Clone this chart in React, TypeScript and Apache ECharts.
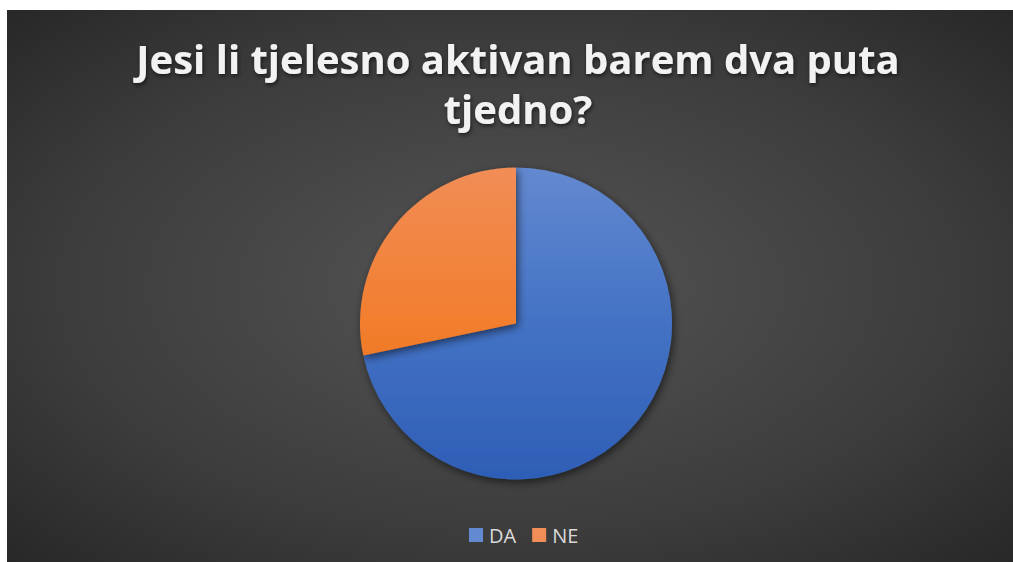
import React, { useEffect, useRef } from "react";
import * as echarts from "echarts";

const titleText = "Jesi li tjelesno aktivan barem dva puta\ntjedno?";
const categories = ["DA", "NE"];
const values = [71.7, 28.3];

const blueStops = ["#6389D0", "#4472C4", "#2E5EB6"];
const orangeStops = ["#F18D57", "#F27E2E", "#E56B18"];

export default function App() {
  const ref = useRef<HTMLDivElement>(null);
  useEffect(() => {
    if (!ref.current) return;
    const chart = echarts.init(ref.current, undefined, { renderer: "svg" });
    const grad = (stops: string[]) => ({
      type: "linear",
      x: 0,
      y: 157,
      x2: 0,
      y2: 470,
      global: true,
      colorStops: [
        { offset: 0, color: stops[0] },
        { offset: 0.5, color: stops[1] },
        { offset: 1, color: stops[2] },
      ],
    });
    const colors = [grad(blueStops), grad(orangeStops)];
    chart.setOption({
      animation: false,
      backgroundColor: {
        type: "radial",
        x: 0.5,
        y: 0.5,
        r: 0.75,
        colorStops: [
          { offset: 0, color: "#555555" },
          { offset: 0.6, color: "#3c3c3c" },
          { offset: 1, color: "#242424" },
        ],
      },
      title: {
        text: titleText,
        left: 506,
        top: 18,
        textAlign: "center",
        textStyle: {
          color: "#F2F2F2",
          fontFamily: "Open Sans",
          fontWeight: "bold",
          fontSize: 40,
          lineHeight: 50,
          textShadowColor: "rgba(0,0,0,0.6)",
          textShadowBlur: 4,
          textShadowOffsetX: 1,
          textShadowOffsetY: 2,
        },
      },
      legend: {
        data: categories,
        bottom: 12,
        left: 457,
        itemWidth: 14,
        itemHeight: 14,
        itemGap: 16,
        icon: "rect",
        textStyle: { color: "#D9D9D9", fontSize: 20, fontFamily: "Open Sans", padding: [0, 0, 0, 1] },
      },
      series: [
        {
          type: "pie",
          center: [509, 313.5],
          radius: 156,
          startAngle: 90,
          clockwise: true,
          label: { show: false },
          labelLine: { show: false },
          emphasis: { disabled: true },
          itemStyle: {
            shadowColor: "rgba(0,0,0,0.55)",
            shadowBlur: 8,
            shadowOffsetX: 2,
            shadowOffsetY: 3,
          },
          data: categories.map((c, i) => ({
            name: c,
            value: values[i],
            itemStyle: { color: colors[i] },
          })),
        },
      ],
    });
    return () => chart.dispose();
  }, []);
  return (
    <div style={{ position: "fixed", left: 0, top: 0, width: 1013, height: 562, background: "#ffffff" }}>
      <div ref={ref} style={{ position: "absolute", left: 7, top: 10, width: 1006, height: 552 }} />
    </div>
  );
}
